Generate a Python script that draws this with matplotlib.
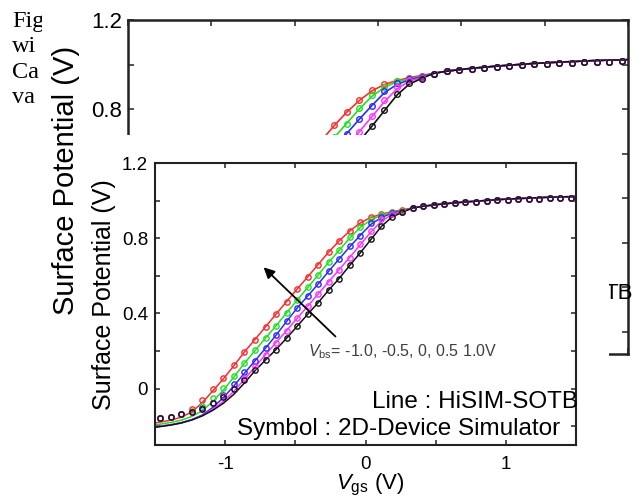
import matplotlib
matplotlib.use('Agg')
import matplotlib.pyplot as plt
from matplotlib.ticker import MultipleLocator, FuncFormatter
from matplotlib.transforms import Bbox, TransformedBbox

plt.rcParams['font.family'] = ['Liberation Sans', 'DejaVu Sans']
plt.rcParams['mathtext.fontset'] = 'custom'
plt.rcParams['mathtext.rm'] = 'Liberation Sans'
plt.rcParams['mathtext.it'] = 'Liberation Sans:italic'
plt.rcParams['axes.unicode_minus'] = False

# ---------------- data ----------------
SIM_VGS = [-1.4625, -1.3875, -1.3125, -1.2375, -1.1625, -1.0875, -1.0125, -0.9375,
           -0.8625, -0.7875, -0.7125, -0.6375, -0.5625, -0.4875, -0.4125, -0.3375,
           -0.2625, -0.1875, -0.1125, -0.0375, 0.0375, 0.1125, 0.1875, 0.2625,
           0.3375, 0.4125, 0.4875, 0.5625, 0.6375, 0.7125, 0.7875, 0.8625,
           0.9375, 1.0125, 1.0875, 1.1625, 1.2375, 1.3125, 1.3875, 1.4625]
MODEL_VGS = [-1.5] + SIM_VGS + [1.5]

# simulator symbols (first 24 points differ per Vbs, then common saturation part)
SIM_FLAT = [0.958, 0.969, 0.976, 0.981, 0.985, 0.990, 0.994, 0.997,
            1.001, 1.004, 1.006, 1.008, 1.010, 1.012, 1.013, 1.014]
SIM_P10 = [-0.158, -0.150, -0.136, -0.110, -0.058, -0.002, 0.058, 0.126, 0.197, 0.261,
           0.329, 0.396, 0.463, 0.529, 0.594, 0.660, 0.727, 0.787, 0.839, 0.884,
           0.912, 0.928, 0.940, 0.948]
SIM_P05 = [-0.158, -0.150, -0.137, -0.120, -0.095, -0.052, 0.004, 0.068, 0.137, 0.203,
           0.270, 0.334, 0.404, 0.470, 0.538, 0.605, 0.673, 0.735, 0.804, 0.862,
           0.900, 0.926, 0.937, 0.945]
SIM_0 = [-0.158, -0.150, -0.137, -0.122, -0.105, -0.075, -0.032, 0.022, 0.087, 0.147,
         0.214, 0.285, 0.360, 0.430, 0.493, 0.555, 0.626, 0.688, 0.756, 0.812,
         0.882, 0.915, 0.935, 0.942]
SIM_M05 = [-0.158, -0.150, -0.137, -0.123, -0.107, -0.078, -0.042, 0.000, 0.055, 0.118,
           0.180, 0.245, 0.308, 0.375, 0.437, 0.503, 0.568, 0.633, 0.697, 0.768,
           0.839, 0.900, 0.930, 0.940]
SIM_M10 = [-0.158, -0.150, -0.137, -0.123, -0.107, -0.078, -0.045, -0.004, 0.048, 0.101,
           0.151, 0.207, 0.268, 0.332, 0.395, 0.456, 0.525, 0.585, 0.658, 0.723,
           0.795, 0.866, 0.915, 0.937]

# HiSIM-SOTB model lines
MODEL_FLAT = [0.961, 0.970, 0.977, 0.983, 0.988, 0.993, 0.997, 1.001, 1.005,
              1.008, 1.011, 1.013, 1.016, 1.018, 1.020, 1.021, 1.022]
MOD_P10 = [-0.183, -0.178, -0.168, -0.152, -0.124, -0.074, -0.012, 0.052, 0.122, 0.195,
           0.261, 0.329, 0.396, 0.463, 0.529, 0.594, 0.660, 0.726, 0.786, 0.838,
           0.881, 0.910, 0.928, 0.941, 0.951]
MOD_P05 = [-0.193, -0.189, -0.180, -0.168, -0.148, -0.118, -0.068, -0.008, 0.062, 0.135,
           0.202, 0.269, 0.334, 0.403, 0.470, 0.537, 0.604, 0.672, 0.736, 0.800,
           0.857, 0.897, 0.922, 0.937, 0.948]
MOD_0 = [-0.204, -0.200, -0.192, -0.181, -0.165, -0.140, -0.100, -0.048, 0.015, 0.082,
         0.148, 0.215, 0.284, 0.357, 0.428, 0.492, 0.556, 0.624, 0.690, 0.754,
         0.815, 0.873, 0.910, 0.932, 0.945]
MOD_M05 = [-0.205, -0.201, -0.193, -0.182, -0.166, -0.143, -0.110, -0.068, -0.014, 0.050,
           0.115, 0.180, 0.245, 0.308, 0.374, 0.438, 0.503, 0.568, 0.633, 0.698,
           0.765, 0.832, 0.890, 0.925, 0.942]
MOD_M10 = [-0.206, -0.202, -0.194, -0.183, -0.167, -0.145, -0.115, -0.078, -0.030, 0.030,
           0.095, 0.152, 0.208, 0.268, 0.331, 0.395, 0.457, 0.524, 0.586, 0.655,
           0.722, 0.792, 0.862, 0.912, 0.938]

SERIES_COLORS = ['#ff2a2a', '#22e022', '#2a2aff', '#ff33ff', '#111111']
SIM_SERIES = [SIM_P10, SIM_P05, SIM_0, SIM_M05, SIM_M10]
MOD_SERIES = [MOD_P10, MOD_P05, MOD_0, MOD_M05, MOD_M10]

VBS_LABEL = r'$V_{\rm bs}$= -1.0, -0.5, 0, 0.5 1.0V'
LINE_LABEL = 'Line : HiSIM-SOTB'
SYMBOL_LABEL = 'Symbol : 2D-Device Simulator'
BG_LINE_FRAGMENT = 'TB'
Y_LABEL = 'Surface Potential (V)'
X_LABEL = r'$V_{\rm gs}$ (V)'
CAPTION = ['Fig', 'wi', 'Ca', 'va']

# ---------------- figure ----------------
W, H = 633, 499
fig = plt.figure(figsize=(W / 100, H / 100), dpi=100)


def px_rect(l, t, r, b):
    return [l / W, 1 - b / H, (r - l) / W, (b - t) / H]


def fmt(v, pos):
    if abs(v) < 1e-9:
        return '0'
    if abs(v - round(v)) < 1e-9:
        return '%d' % round(v)
    return '%.1f' % v


def style(ax, fs, spine_lw, tlen, padx, pady):
    ax.set_xlim(-1.5, 1.5)
    ax.set_ylim(-0.3, 1.2)
    ax.xaxis.set_major_locator(MultipleLocator(1.0))
    ax.xaxis.set_minor_locator(MultipleLocator(0.5))
    ax.yaxis.set_major_locator(MultipleLocator(0.4))
    ax.yaxis.set_minor_locator(MultipleLocator(0.2))
    ax.xaxis.set_major_formatter(FuncFormatter(fmt))
    ax.yaxis.set_major_formatter(FuncFormatter(fmt))
    for s in ax.spines.values():
        s.set_linewidth(spine_lw)
        s.set_color('#222222')
    ax.tick_params(which='both', direction='in', top=True, right=True,
                   length=tlen, width=1.1, color='#222222', labelsize=fs)
    ax.tick_params(axis='x', which='major', pad=padx)
    ax.tick_params(axis='y', which='major', pad=pady)


def draw_data(ax, ms, lw):
    for col, sim, mod in zip(SERIES_COLORS, SIM_SERIES, MOD_SERIES):
        ax.plot(MODEL_VGS, mod + MODEL_FLAT, color=col, lw=lw, zorder=2)
        ax.plot(SIM_VGS, sim + SIM_FLAT, ls='none', marker='o', mfc='none',
                mec=col, ms=ms, mew=1.0, zorder=3)


# background (full-size) chart, mostly hidden behind the inset
bg = fig.add_axes(px_rect(128, 20, 628, 354), zorder=0)
style(bg, 16, 1.8, 4.5, 8, 4)
# only the labels that stay visible above the inset
bg.yaxis.set_major_formatter(FuncFormatter(lambda v, p: fmt(v, p) if v > 0.7 else ''))
bg.tick_params(axis='x', labelbottom=False)
draw_data(bg, 4.0, 1.2)
tb = bg.text(1.53, -0.052, BG_LINE_FRAGMENT, fontsize=16, ha='right',
             va='baseline', clip_on=True)
tb.set_clip_box(TransformedBbox(Bbox([[609 / W, 0], [1, 1]]), fig.transFigure))

# white cover of the pasted inset
cover = fig.add_axes(px_rect(85, 135, 609, 499), zorder=1)
cover.set_facecolor('white')
cover.set_xticks([])
cover.set_yticks([])
for s in cover.spines.values():
    s.set_visible(False)

# inset chart
ax = fig.add_axes(px_rect(155, 163, 576, 445), zorder=2)
style(ax, 13.5, 1.5, 3.8, 8, 5)
draw_data(ax, 3.8, 1.1)

ax.annotate('', xy=(-0.726, 0.645), xytext=(-0.214, 0.277),
            arrowprops=dict(arrowstyle='-|>', color='black', lw=1.3,
                            mutation_scale=16, shrinkA=0, shrinkB=0), zorder=5)
ax.text(-0.41, 0.197, VBS_LABEL, fontsize=11.5, color='#404040',
        ha='left', va='center', zorder=6)
ax.text(1.516, -0.101, LINE_LABEL, fontsize=17.5, ha='right', va='baseline',
        clip_on=False, zorder=6)
ax.text(1.388, -0.245, SYMBOL_LABEL, fontsize=17.5, ha='right', va='baseline',
        zorder=6)

fig.text(370 / W, 1 - 489 / H, X_LABEL, fontsize=16, ha='center', va='baseline')
fig.text(104 / W, 1 - 295 / H, Y_LABEL, fontsize=18, rotation=90,
         ha='center', va='center')
fig.text(66 / W, 1 - 180 / H, Y_LABEL, fontsize=21, rotation=90,
         ha='center', va='center')

# clipped caption fragments at top-left
clip = TransformedBbox(Bbox([[0, 0], [42 / W, 1]]), fig.transFigure)
for i, word in enumerate(CAPTION):
    t = fig.text(12 / W, 1 - (27 + 25.3 * i) / H, word, fontsize=17.5,
                 family=['Liberation Serif', 'DejaVu Serif'], va='baseline')
    t.set_clip_box(clip)
    t.set_clip_on(True)

fig.savefig('out.png', dpi=100)
